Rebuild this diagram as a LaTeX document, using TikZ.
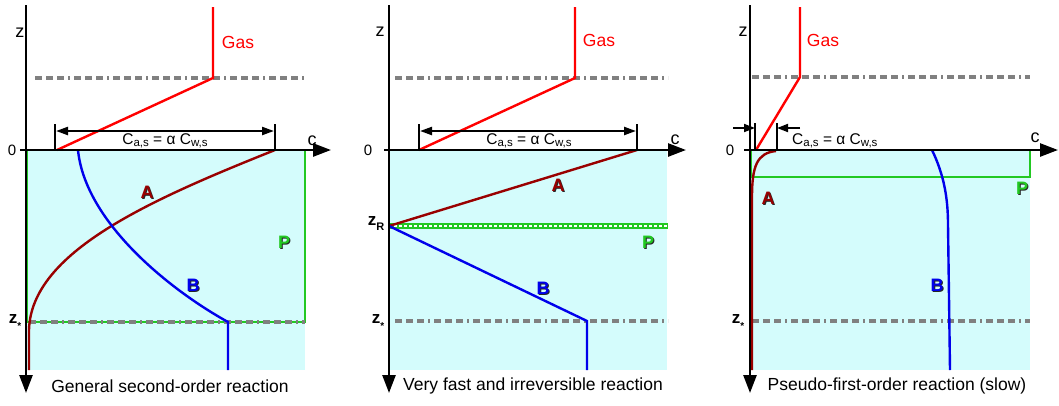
\documentclass[tikz,border=0pt]{standalone}
\usepackage{fontspec}
\setmainfont{Liberation Sans}
\usetikzlibrary{arrows.meta}
\definecolor{cyanfill}{RGB}{212,252,252}
\definecolor{gasred}{RGB}{255,0,0}
\definecolor{adark}{RGB}{153,0,0}
\definecolor{bblue}{RGB}{0,0,235}
\definecolor{pgreen}{RGB}{34,200,34}
\definecolor{dgray}{RGB}{128,128,128}
\begin{document}
\begin{tikzpicture}[x=1pt,y=-1pt,
  axisline/.style={line width=2.6pt,-{Triangle[length=18pt,width=13pt]}},
  dimline/.style={line width=2.2pt,{Triangle[length=12pt,width=8pt]}-{Triangle[length=12pt,width=8pt]}},
  dimone/.style={line width=1.8pt,-{Triangle[length=11pt,width=8pt]}},
  tickline/.style={line width=2pt},
  dashdot/.style={dgray,line width=3.2pt,dash pattern=on 7pt off 4pt on 7pt off 4pt on 7pt off 4pt on 2pt off 4pt},
  gasline/.style={gasred,line width=2.4pt},
  aline/.style={adark,line width=2.4pt},
  bline/.style={bblue,line width=2.4pt},
  prect/.style={pgreen,line width=2.4pt},
  axlbl/.style={inner sep=0pt,font=\fontsize{18}{20}\selectfont},
  zerolbl/.style={inner sep=0pt,font=\fontsize{15}{17}\selectfont},
  gaslbl/.style={inner sep=0pt,text=gasred,font=\fontsize{17.5}{20}\selectfont},
  eqlbl/.style={inner sep=0pt,font=\fontsize{15.5}{18}\selectfont},
  caplbl/.style={inner sep=0pt,font=\fontsize{17.5}{20}\selectfont},
  curvlbl/.style={inner sep=0pt,font=\fontsize{18}{20}\selectfont\bfseries},
  shadowlbl/.style={inner sep=0pt,text=black!85,font=\fontsize{18}{20}\selectfont\bfseries},
  zlbl/.style={inner sep=0pt,font=\fontsize{17}{19}\selectfont\bfseries}
]
\useasboundingbox (0,0) rectangle (1059,405);
\newcommand{\eqtext}{C{\fontsize{11.5}{12}\selectfont\raisebox{-2pt}{a,s}} = α C{\fontsize{11.5}{12}\selectfont\raisebox{-2pt}{w,s}}}

% ================= Panel 1 =================
\fill[cyanfill] (27,150) rectangle (305,370);
\draw[prect] (27,150) rectangle (305,322);
\draw[dashdot] (35,78) -- (305,78);
\draw[dashdot] (29,322) -- (305,322);
\coordinate (g1a) at (213,7);
\coordinate (g1b) at (213,78);
\coordinate (g1c) at (57,150);
\draw[gasline] (g1a) -- (g1b) -- (g1c);
\coordinate (a1s) at (275,150);
\coordinate (a1e) at (29,330);
\coordinate (a1f) at (29,370);
\draw[aline] (a1s) .. controls (150,200) and (31,252) .. (a1e) -- (a1f);
\coordinate (b1s) at (78,150);
\coordinate (b1e) at (228,322);
\coordinate (b1f) at (228,370);
\draw[bline] (b1s) .. controls (85,222) and (170,290) .. (b1e) -- (b1f);
\coordinate (z1top) at (26,5);
\coordinate (z1bot) at (26,393);
\draw[axisline] (z1top) -- (z1bot);
\coordinate (c1l) at (20,150);
\coordinate (c1r) at (331,150);
\draw[axisline] (c1l) -- (c1r);
\coordinate (t1a) at (55,124);
\coordinate (t1ab) at (55,150);
\coordinate (t1b) at (275,124);
\coordinate (t1bb) at (275,150);
\draw[tickline] (t1a) -- (t1ab);
\draw[tickline] (t1b) -- (t1bb);
\coordinate (d1a) at (56,131);
\coordinate (d1b) at (274,131);
\draw[dimline] (d1a) -- (d1b);
\node[eqlbl] (eq1) at (165,141) {\eqtext};
\node[axlbl] (z1) at (20,33) {z};
\node[zerolbl] (o1) at (12,150) {0};
\node[axlbl] (c1) at (312,141) {c};
\node[gaslbl] (gas1) at (238,42) {Gas};
\node[shadowlbl] (A1s) at (148,193) {A};
\node[curvlbl,text=adark] (A1) at (147,192) {A};
\node[shadowlbl] (B1s) at (194,286) {B};
\node[curvlbl,text=bblue] (B1) at (193,285) {B};
\node[shadowlbl] (P1s) at (285,243) {P};
\node[curvlbl,text=pgreen] (P1) at (284,242) {P};
\node[zlbl] (zs1) at (15,322) {z\raisebox{-6pt}{\fontsize{10}{10}\selectfont *}};
\node[caplbl] (cap1) at (170,386) {General second-order reaction};

% ================= Panel 2 =================
\fill[cyanfill] (390,150) rectangle (667,370);
\draw[dashdot] (395,78) -- (668,78);
\draw[dashdot] (395,321) -- (668,321);
\coordinate (g2a) at (575,7);
\coordinate (g2b) at (575,78);
\coordinate (g2c) at (419,150);
\draw[gasline] (g2a) -- (g2b) -- (g2c);
\coordinate (zr) at (389,226);
\coordinate (zrr) at (668,226);
\draw[pgreen,line width=6pt] (zr) -- (zrr);
\draw[white,line width=1.2pt,dash pattern=on 3pt off 2pt] (zr) -- (zrr);
\coordinate (a2s) at (637,150);
\draw[aline] (a2s) -- (zr);
\coordinate (b2e) at (587,321);
\coordinate (b2f) at (587,370);
\draw[bline] (zr) -- (b2e) -- (b2f);
\coordinate (z2top) at (389,5);
\coordinate (z2bot) at (389,393);
\draw[axisline] (z2top) -- (z2bot);
\coordinate (c2l) at (384,150);
\coordinate (c2r) at (686,150);
\draw[axisline] (c2l) -- (c2r);
\coordinate (t2a) at (419,124);
\coordinate (t2ab) at (419,150);
\coordinate (t2b) at (637,124);
\coordinate (t2bb) at (637,150);
\draw[tickline] (t2a) -- (t2ab);
\draw[tickline] (t2b) -- (t2bb);
\coordinate (d2a) at (420,131);
\coordinate (d2b) at (636,131);
\draw[dimline] (d2a) -- (d2b);
\node[eqlbl] (eq2) at (529,141) {\eqtext};
\node[axlbl] (z2) at (380,32) {z};
\node[zerolbl] (o2) at (368,150) {0};
\node[axlbl] (c2) at (675,140) {c};
\node[gaslbl] (gas2) at (599,40) {Gas};
\node[shadowlbl] (A2s) at (559,186) {A};
\node[curvlbl,text=adark] (A2) at (558,185) {A};
\node[shadowlbl] (B2s) at (544,289) {B};
\node[curvlbl,text=bblue] (B2) at (543,288) {B};
\node[shadowlbl] (P2s) at (649,243) {P};
\node[curvlbl,text=pgreen] (P2) at (648,242) {P};
\node[zlbl] (zr2) at (376,224) {z\raisebox{-5pt}{\fontsize{11}{11}\selectfont R}};
\node[zlbl] (zs2) at (378,322) {z\raisebox{-6pt}{\fontsize{10}{10}\selectfont *}};
\node[caplbl] (cap2) at (533,386) {Very fast and irreversible reaction};

% ================= Panel 3 =================
\fill[cyanfill] (751,150) rectangle (1030,370);
\draw[prect] (751,150) rectangle (1030,177);
\draw[dashdot] (752,77) -- (1030,77);
\draw[dashdot] (752,321) -- (1030,321);
\coordinate (g3a) at (800,7);
\coordinate (g3b) at (800,77);
\coordinate (g3c) at (756,150);
\draw[gasline] (g3a) -- (g3b) -- (g3c);
\coordinate (a3s) at (776,151);
\coordinate (a3e) at (752,197);
\coordinate (a3f) at (752,370);
\draw[aline] (a3s) .. controls (757,153) and (752,166) .. (a3e) -- (a3f);
\coordinate (b3s) at (932,150);
\coordinate (b3e) at (948,225);
\coordinate (b3f) at (950,370);
\draw[bline] (b3s) .. controls (944,175) and (948,198) .. (b3e) -- (b3f);
\coordinate (z3top) at (750,5);
\coordinate (z3bot) at (750,393);
\draw[axisline] (z3top) -- (z3bot);
\coordinate (c3l) at (744,150);
\coordinate (c3r) at (1058,150);
\draw[axisline] (c3l) -- (c3r);
\coordinate (t3a) at (755,123);
\coordinate (t3ab) at (755,150);
\coordinate (t3b) at (777,123);
\coordinate (t3bb) at (777,150);
\draw[tickline] (t3a) -- (t3ab);
\draw[tickline] (t3b) -- (t3bb);
\coordinate (d3l) at (733,128);
\coordinate (d3r) at (800,128);
\draw[dimone] (d3l) -- (t3a |- d3l);
\draw[dimone] (d3r) -- (t3b |- d3r);
\node[eqlbl,anchor=west] (eq3) at (792,141) {\eqtext};
\node[axlbl] (z3) at (743,32) {z};
\node[zerolbl] (o3) at (730,150) {0};
\node[axlbl] (c3) at (1035,138) {c};
\node[gaslbl] (gas3) at (823,40) {Gas};
\node[shadowlbl] (A3s) at (769,199) {A};
\node[curvlbl,text=adark] (A3) at (768,198) {A};
\node[shadowlbl] (B3s) at (938,286) {B};
\node[curvlbl,text=bblue] (B3) at (937,285) {B};
\node[shadowlbl] (P3s) at (1023,189) {P};
\node[curvlbl,text=pgreen] (P3) at (1022,188) {P};
\node[zlbl] (zs3) at (738,322) {z\raisebox{-6pt}{\fontsize{10}{10}\selectfont *}};
\node[caplbl] (cap3) at (897,386) {Pseudo-first-order reaction (slow)};
\end{tikzpicture}
\end{document}
